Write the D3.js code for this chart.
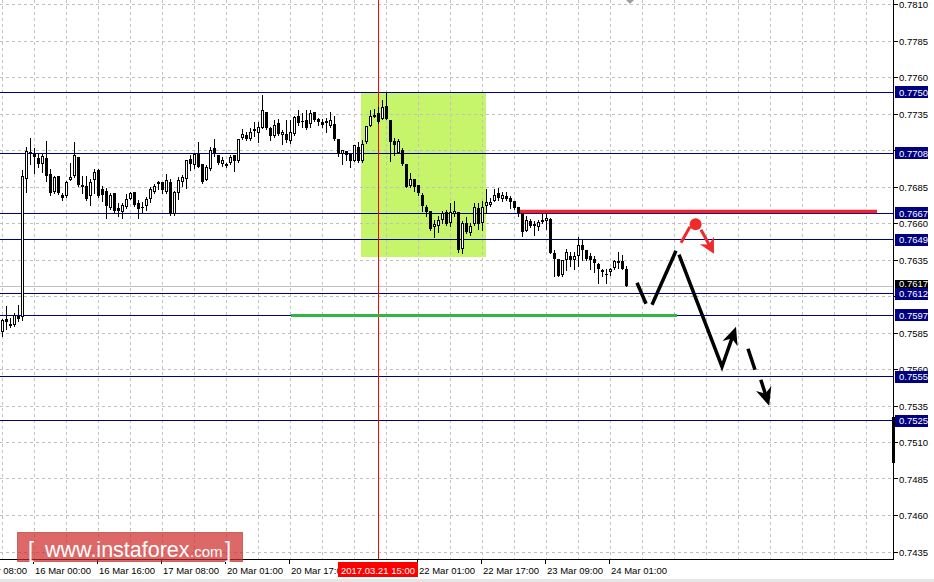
<!DOCTYPE html>
<html><head><meta charset="utf-8">
<script src="https://cdn.jsdelivr.net/npm/d3@7"></script>
<style>
body{margin:0;background:#fff;overflow:hidden;}
svg{display:block;}
text{font-family:"Liberation Sans",Arial,sans-serif;}
</style>
</head><body>
<svg id="c" width="934" height="582"></svg>
<script>
// ---------------- DATA ----------------
const open = [0.75854,0.75949,0.75906,0.75902,0.75968,0.75963,0.76904,0.77084,0.77077,0.77048,
0.77009,0.77048,0.76938,0.76819,0.76927,0.76797,0.76785,0.76895,0.76922,0.77055,
0.76865,0.76858,0.76785,0.76895,0.76968,0.76836,0.76824,0.76706,0.76808,0.76708,
0.76680,0.76712,0.76769,0.76817,0.76737,0.76712,0.76723,0.76769,0.76819,0.76872,
0.76881,0.76815,0.76886,0.76667,0.76808,0.76886,0.76904,0.77045,0.77002,0.77077,
0.77009,0.76895,0.76973,0.77117,0.77071,0.77009,0.76995,0.77014,0.77069,0.77027,
0.77185,0.77208,0.77178,0.77242,0.77223,0.77253,0.77363,0.77253,0.77201,0.77288,
0.77208,0.77215,0.77162,0.77212,0.77338,0.77299,0.77310,0.77283,0.77363,0.77315,
0.77292,0.77299,0.77271,0.77281,0.77180,0.77077,0.77098,0.77077,0.77031,0.77127,
0.77027,0.77155,0.77271,0.77329,0.77356,0.77315,0.77406,0.77310,0.77166,0.77086,
0.77105,0.77009,0.76858,0.76904,0.76865,0.76797,0.76716,0.76687,0.76575,0.76580,
0.76621,0.76678,0.76603,0.76664,0.76678,0.76425,0.76603,0.76534,0.76596,0.76708,
0.76603,0.76723,0.76730,0.76753,0.76808,0.76767,0.76790,0.76774,0.76756,0.76716,
0.76671,0.76552,0.76618,0.76598,0.76575,0.76616,0.76614,0.76630,0.76401,0.76360,
0.76249,0.76351,0.76374,0.76347,0.76379,0.76450,0.76420,0.76379,0.76356,0.76324,
0.76271,0.76256,0.76265,0.76295,0.76333,0.76340,0.76288];
const high = [0.75947,0.76036,0.75954,0.75988,0.76043,0.76968,0.77127,0.77185,0.77117,0.77077,
0.77077,0.77166,0.76973,0.76927,0.76927,0.76808,0.76888,0.77014,0.77160,0.77055,
0.76922,0.76927,0.76904,0.76973,0.76973,0.76858,0.76842,0.76812,0.76808,0.76740,
0.76740,0.76801,0.76817,0.76817,0.76762,0.76749,0.76781,0.76853,0.76870,0.76893,
0.76886,0.76940,0.76904,0.76824,0.76918,0.76934,0.77036,0.77071,0.77077,0.77160,
0.77009,0.77002,0.77127,0.77178,0.77071,0.77055,0.77014,0.77071,0.77071,0.77178,
0.77247,0.77230,0.77253,0.77292,0.77292,0.77477,0.77363,0.77264,0.77310,0.77315,
0.77242,0.77306,0.77310,0.77338,0.77379,0.77360,0.77374,0.77374,0.77363,0.77322,
0.77315,0.77322,0.77363,0.77333,0.77180,0.77105,0.77098,0.77077,0.77139,0.77155,
0.77173,0.77269,0.77379,0.77384,0.77401,0.77447,0.77497,0.77310,0.77185,0.77178,
0.77117,0.77009,0.76949,0.76904,0.76865,0.76812,0.76728,0.76687,0.76625,0.76648,
0.76689,0.76694,0.76740,0.76751,0.76682,0.76614,0.76644,0.76603,0.76740,0.76740,
0.76751,0.76838,0.76774,0.76836,0.76842,0.76819,0.76819,0.76785,0.76756,0.76716,
0.76671,0.76648,0.76630,0.76614,0.76625,0.76666,0.76671,0.76637,0.76420,0.76360,
0.76351,0.76427,0.76408,0.76408,0.76507,0.76493,0.76420,0.76401,0.76374,0.76329,
0.76288,0.76288,0.76295,0.76351,0.76408,0.76386,0.76310];
const low = [0.75831,0.75879,0.75893,0.75899,0.75934,0.75941,0.76819,0.77007,0.76949,0.76990,
0.76956,0.76888,0.76795,0.76812,0.76803,0.76762,0.76781,0.76895,0.76918,0.76858,
0.76812,0.76762,0.76730,0.76812,0.76781,0.76751,0.76637,0.76699,0.76682,0.76653,
0.76637,0.76708,0.76767,0.76721,0.76637,0.76678,0.76694,0.76744,0.76808,0.76838,
0.76808,0.76808,0.76660,0.76660,0.76769,0.76858,0.76842,0.76968,0.76980,0.76986,
0.76874,0.76895,0.76968,0.77064,0.77009,0.76995,0.76986,0.77009,0.76963,0.77023,
0.77178,0.77173,0.77173,0.77201,0.77155,0.77253,0.77247,0.77173,0.77192,0.77208,
0.77146,0.77155,0.77151,0.77208,0.77276,0.77260,0.77247,0.77264,0.77299,0.77276,
0.77264,0.77230,0.77264,0.77173,0.77064,0.77009,0.77036,0.76990,0.77025,0.77020,
0.77023,0.77151,0.77269,0.77329,0.77290,0.77315,0.77315,0.77031,0.77071,0.77082,
0.77002,0.76849,0.76849,0.76826,0.76797,0.76689,0.76653,0.76557,0.76507,0.76545,
0.76603,0.76591,0.76580,0.76648,0.76408,0.76397,0.76534,0.76523,0.76591,0.76562,
0.76557,0.76682,0.76723,0.76751,0.76758,0.76751,0.76758,0.76706,0.76699,0.76648,
0.76511,0.76552,0.76575,0.76523,0.76557,0.76603,0.76562,0.76397,0.76242,0.76242,
0.76242,0.76283,0.76310,0.76288,0.76310,0.76351,0.76347,0.76288,0.76271,0.76194,
0.76242,0.76194,0.76249,0.76290,0.76295,0.76288,0.76170];
const close = [0.75936,0.75922,0.75913,0.75975,0.75947,0.76922,0.77096,0.77091,0.77055,0.77009,
0.77059,0.76922,0.76812,0.76918,0.76812,0.76774,0.76886,0.76918,0.77071,0.76863,
0.76853,0.76769,0.76886,0.76954,0.76790,0.76797,0.76721,0.76795,0.76689,0.76687,
0.76726,0.76769,0.76812,0.76726,0.76701,0.76715,0.76769,0.76838,0.76858,0.76884,
0.76831,0.76899,0.76667,0.76817,0.76899,0.76918,0.77036,0.77009,0.77077,0.76990,
0.76881,0.76986,0.77105,0.77077,0.77014,0.77036,0.77007,0.77055,0.77027,0.77178,
0.77212,0.77180,0.77226,0.77249,0.77264,0.77374,0.77253,0.77201,0.77276,0.77215,
0.77228,0.77173,0.77226,0.77329,0.77288,0.77292,0.77253,0.77356,0.77306,0.77292,
0.77278,0.77285,0.77310,0.77180,0.77077,0.77105,0.77069,0.77027,0.77139,0.77027,
0.77146,0.77269,0.77338,0.77345,0.77292,0.77401,0.77315,0.77155,0.77139,0.77162,
0.77009,0.76853,0.76904,0.76853,0.76808,0.76721,0.76682,0.76562,0.76598,0.76625,
0.76671,0.76596,0.76678,0.76687,0.76420,0.76603,0.76545,0.76584,0.76716,0.76598,
0.76712,0.76747,0.76749,0.76795,0.76774,0.76795,0.76767,0.76744,0.76706,0.76671,
0.76545,0.76625,0.76580,0.76584,0.76607,0.76621,0.76637,0.76401,0.76356,0.76242,
0.76347,0.76404,0.76351,0.76374,0.76450,0.76420,0.76358,0.76347,0.76329,0.76288,
0.76283,0.76252,0.76288,0.76340,0.76340,0.76288,0.76170];

const priceTicks = [0.7810,0.7785,0.7760,0.7735,0.7710,0.7685,0.7660,0.7635,0.7610,0.7585,0.7560,0.7535,0.7510,0.7485,0.7460,0.7435];
const timeTickBars = [-8,8,24,40,56,72,104,120,136,152];
const timeTickLabels = ["15 Mar 08:00","16 Mar 00:00","16 Mar 16:00","17 Mar 08:00","20 Mar 01:00","20 Mar 17:00","22 Mar 01:00","22 Mar 17:00","23 Mar 09:00","24 Mar 01:00"];
const levels = [0.7750,0.7708,0.7667,0.7649,0.7612,0.7597,0.7555,0.7525];
const currentPrice = 0.7617;
const markerBar = 94;
const markerLabel = "2017.03.21 15:00";
const zoneBars = [89.75, 121];
const zonePrices = [0.7637, 0.7750];
const resistanceBars = [129.5, 218.75];
const resistancePrice = 0.76682;
const supportBars = [72.25, 168.75];
const supportPrice = 0.7597;
const forecastPaths = [
  [[158.75,0.76194],[161,0.76050]],
  [[162.5,0.76043],[168.5,0.76413]],
  [[169.25,0.76386],[180,0.75619],[183.5,0.75893]],
  [[186.5,0.75742],[188.25,0.75598]],
  [[189.7,0.75530],[191.8,0.75352]]
];
const forecastHeads = [2,4];
const altPathUp = [[169.75,0.76468],[172,0.76578]];
const altDot = [173.4,0.76595];
const altArrow = [[174.75,0.76557],[178,0.76393]];

// ---------------- CHART ----------------
const svg = d3.select("#c");
const W = 934, H = 582, plotR = 893, plotB = 559;
const x = d3.scaleLinear().domain([0,1]).range([2,6]);
const y = d3.scaleLinear().domain([0.7435,0.7810]).range([552,4.5]);
const cy = v => Math.floor(y(v)) + 0.5;
const cx = b => Math.round(x(b)) + 0.5;

svg.append("rect").attr("width",W).attr("height",H).attr("fill","#fff");
svg.append("rect").attr("x",0).attr("y",579).attr("width",W).attr("height",3).attr("fill","#e6e6e6");

const defs = svg.append("defs");
defs.append("clipPath").attr("id","plot").append("rect").attr("x",0).attr("y",0).attr("width",plotR).attr("height",plotB);
const plot = svg.append("g").attr("clip-path","url(#plot)");

// zone
plot.append("rect")
  .attr("x", x(zoneBars[0])).attr("width", x(zoneBars[1]) - x(zoneBars[0]))
  .attr("y", y(zonePrices[1])).attr("height", y(zonePrices[0]) - y(zonePrices[1]))
  .attr("fill", "#c6f46a");

// grid
const vgrid = d3.range(0, 224, 8);
plot.append("g").selectAll("line").data(vgrid).join("line")
  .attr("x1", d=>cx(d)).attr("x2", d=>cx(d)).attr("y1",0).attr("y2",plotB)
  .attr("stroke","#c0c0c0").attr("stroke-dasharray","3,3").attr("shape-rendering","crispEdges");
plot.append("g").selectAll("line").data(priceTicks).join("line")
  .attr("x1",0).attr("x2",plotR).attr("y1",d=>cy(d)).attr("y2",d=>cy(d))
  .attr("stroke","#c0c0c0").attr("stroke-dasharray","3,3").attr("shape-rendering","crispEdges");

// current price line
plot.append("line").attr("x1",0).attr("x2",plotR).attr("y1",cy(currentPrice)).attr("y2",cy(currentPrice))
  .attr("stroke","#c0c0c0").attr("shape-rendering","crispEdges");

// level lines
plot.append("g").selectAll("line").data(levels).join("line")
  .attr("x1",0).attr("x2",plotR).attr("y1",d=>cy(d)).attr("y2",d=>cy(d))
  .attr("stroke","#000080").attr("shape-rendering","crispEdges");

// marker vertical
plot.append("line").attr("x1",cx(markerBar)).attr("x2",cx(markerBar)).attr("y1",0).attr("y2",plotB)
  .attr("stroke","#ff0000").attr("shape-rendering","crispEdges");

// support / resistance
plot.append("line").attr("x1",x(resistanceBars[0])).attr("x2",x(resistanceBars[1]))
  .attr("y1",y(resistancePrice)).attr("y2",y(resistancePrice))
  .attr("stroke","#e8262c").attr("stroke-width",3.5);
plot.append("line").attr("x1",x(supportBars[0])).attr("x2",x(supportBars[1]))
  .attr("y1",y(supportPrice)).attr("y2",y(supportPrice))
  .attr("stroke","#33b446").attr("stroke-width",3);

// candles
const idx = d3.range(close.length);
const cg = plot.append("g").attr("shape-rendering","crispEdges");
cg.selectAll("line").data(idx).join("line")
  .attr("x1",i=>cx(i)).attr("x2",i=>cx(i))
  .attr("y1",i=>Math.round(y(high[i]))).attr("y2",i=>Math.round(y(low[i]))+1)
  .attr("stroke","#000");
idx.forEach(i=>{
  const top = Math.round(y(Math.max(open[i],close[i])));
  const bot = Math.round(y(Math.min(open[i],close[i])));
  const bx = Math.round(x(i));
  if (close[i] >= open[i]) {
    if (bot - top >= 2) {
      cg.append("rect").attr("x",bx-0.5).attr("y",top+0.5).attr("width",2).attr("height",bot-top-1)
        .attr("fill","#fff").attr("stroke","#000");
    } else {
      cg.append("rect").attr("x",bx-1).attr("y",top).attr("width",3).attr("height",Math.max(1,bot-top+1)).attr("fill","#000");
    }
  } else {
    cg.append("rect").attr("x",bx-1).attr("y",top).attr("width",3).attr("height",Math.max(1,bot-top)).attr("fill","#000");
  }
});

// forecast arrows
const line = d3.line().x(d=>x(d[0])).y(d=>y(d[1]));
function head(g, p1, p2, len, hw, color) {
  const x1=x(p1[0]), y1=y(p1[1]), x2=x(p2[0]), y2=y(p2[1]);
  const dx=x2-x1, dy=y2-y1, L=Math.hypot(dx,dy), ux=dx/L, uy=dy/L;
  const bx=x2-ux*len, by=y2-uy*len;
  const pts=[[x2,y2],[bx-uy*hw,by+ux*hw],[x2-ux*len*0.7,y2-uy*len*0.7],[bx+uy*hw,by-ux*hw]];
  g.append("path").attr("d","M"+pts.map(p=>p.join(",")).join("L")+"Z").attr("fill",color);
  return [x2-ux*len*0.6, y2-uy*len*0.6];
}
const fg = plot.append("g");
forecastPaths.forEach((p,k)=>{
  let pts = p.map(d=>[x(d[0]),y(d[1])]);
  if (forecastHeads.includes(k)) {
    const e = head(fg, p[p.length-2], p[p.length-1], 18, 8, "#000");
    pts[pts.length-1] = e;
  }
  fg.append("path").attr("d", d3.line()(pts)).attr("fill","none").attr("stroke","#000")
    .attr("stroke-width",3.5).attr("stroke-linejoin","miter");
});
fg.append("path").attr("d", line(altPathUp)).attr("fill","none").attr("stroke","#ee2a2a").attr("stroke-width",3);
fg.append("circle").attr("cx",x(altDot[0])).attr("cy",y(altDot[1])).attr("r",6).attr("fill","#ee2a2a");
{
  const e = head(fg, altArrow[0], altArrow[1], 15, 8, "#ee2a2a");
  fg.append("path").attr("d", d3.line()([[x(altArrow[0][0]),y(altArrow[0][1])],e])).attr("fill","none")
    .attr("stroke","#ee2a2a").attr("stroke-width",3);
}

// top marker triangle
svg.append("path").attr("d","M626,0L634,0L630,4Z").attr("fill","#a0a0a0");

// axes
svg.append("line").attr("x1",0).attr("x2",plotR+1).attr("y1",plotB+0.5).attr("y2",plotB+0.5).attr("stroke","#000").attr("shape-rendering","crispEdges");
svg.append("line").attr("x1",plotR+0.5).attr("x2",plotR+0.5).attr("y1",0).attr("y2",plotB+1).attr("stroke","#000").attr("shape-rendering","crispEdges");
svg.append("rect").attr("x",892).attr("y",417).attr("width",3).attr("height",46).attr("fill","#000");

// price axis ticks + labels (labels hidden under a level/price box are not drawn)
const covered = d => levels.concat([currentPrice]).some(l => Math.abs(y(l) - y(d)) < 5);
const pa = svg.append("g");
pa.selectAll("line").data(priceTicks).join("line")
  .attr("x1",plotR+1).attr("x2",plotR+5).attr("y1",d=>cy(d)).attr("y2",d=>cy(d))
  .attr("stroke","#000").attr("shape-rendering","crispEdges");
pa.selectAll("text").data(priceTicks.filter(d=>!covered(d))).join("text")
  .attr("x",899).attr("y",d=>y(d)+3.5).attr("font-size","9.5px").attr("fill","#000")
  .text(d=>d.toFixed(4));

// current price label
svg.append("rect").attr("x",895).attr("y",Math.round(y(currentPrice))-6).attr("width",33).attr("height",12).attr("fill","#000");
svg.append("text").attr("x",899).attr("y",y(currentPrice)+1).attr("font-size","9.5px").attr("fill","#fff").text(currentPrice.toFixed(4));

// level labels
const lg = svg.append("g").selectAll("g").data(levels).join("g");
lg.append("rect").attr("x",895).attr("y",d=>Math.round(y(d))-6).attr("width",33).attr("height",12).attr("fill","#000080");
lg.append("text").attr("x",899).attr("y",d=>y(d)+3.5).attr("font-size","9.5px").attr("fill","#fff").text(d=>d.toFixed(4));

// time axis
const ta = svg.append("g");
ta.selectAll("line").data(timeTickBars).join("line")
  .attr("x1",d=>Math.round(x(d))-0.5).attr("x2",d=>Math.round(x(d))-0.5).attr("y1",plotB+1).attr("y2",plotB+5)
  .attr("stroke","#000").attr("shape-rendering","crispEdges");
ta.selectAll("text").data(timeTickBars).join("text")
  .attr("x",d=>x(d)+1).attr("y",573.5).attr("font-size","9.5px").attr("fill","#000")
  .text((d,i)=>timeTickLabels[i]);

// marker label
svg.append("rect").attr("x",x(markerBar)-40).attr("y",562).attr("width",80).attr("height",15).attr("fill","#ff0000");
svg.append("text").attr("x",x(markerBar)).attr("y",573.5).attr("text-anchor","middle").attr("font-size","9.5px").attr("fill","#fff").text(markerLabel);

// watermark
const wm = svg.append("g");
wm.append("rect").attr("x",17.5).attr("y",532.5).attr("width",225).attr("height",29)
  .attr("fill","rgba(205,40,40,0.7)").attr("stroke","rgba(180,40,40,0.6)");
wm.append("text").attr("x",28).attr("y",557).attr("font-size","22px").attr("fill","#fff").text("[");
wm.append("text").attr("x",45).attr("y",556.5).attr("font-size","21.5px").attr("fill","#fff").text("www.instaforex");
wm.append("text").attr("x",190).attr("y",556.5).attr("font-size","15px").attr("fill","#fff").text(".com");
wm.append("text").attr("x",225).attr("y",557).attr("font-size","22px").attr("fill","#fff").text("]");
</script>
</body></html>
